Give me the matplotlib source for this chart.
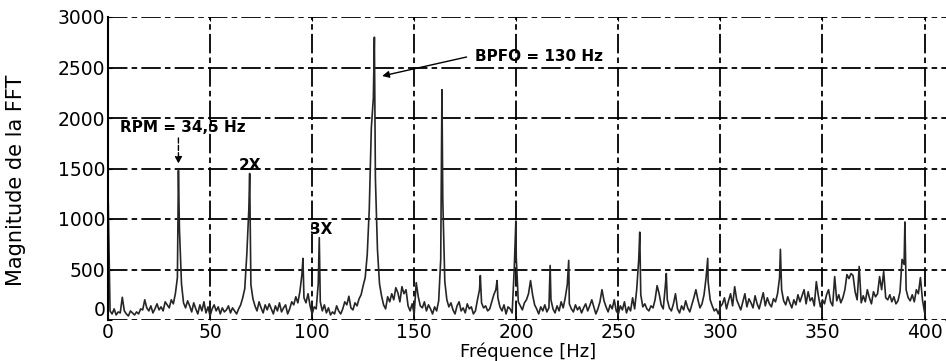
import numpy as np
import matplotlib
matplotlib.use('Agg')
import matplotlib.pyplot as plt

plt.rcParams['font.family'] = ['DejaVu Sans']
plt.rcParams['lines.scale_dashes'] = False

# noise floor of the spectrum, one value per Hz (0..400 Hz)
mag_base = [
    1300, 90, 60, 110, 50, 80, 70, 225, 90, 60,
    40, 90, 70, 50, 80, 60, 110, 100, 200, 120,
    90, 140, 70, 110, 160, 100, 130, 90, 180, 150,
    120, 200, 160, 260, 420, 900, 360, 170, 120, 190,
    140, 80, 170, 110, 60, 150, 90, 180, 70, 130,
    40, 110, 150, 90, 130, 60, 120, 80, 100, 140,
    70, 120, 90, 60, 110, 150, 220, 310, 650, 1100,
    350, 210, 140, 90, 180, 120, 70, 150, 100, 160,
    110, 60, 140, 90, 170, 80, 120, 150, 60, 110,
    180, 150, 230, 170, 280, 450, 220, 170, 260, 140,
    60, 130, 110, 360, 180, 90, 150, 70, 120, 50,
    80, 60, 140, 90, 60, 110, 180, 150, 235, 120,
    100, 170, 140, 210, 250, 340, 420, 650, 1100, 1900,
    2200, 1400, 700, 360, 240, 150, 110, 230, 180, 260,
    200, 320, 270, 180, 330, 260, 300, 140, 90, 160,
    60, 370, 230, 140, 120, 180, 90, 150, 110, 60,
    130, 90, 190, 600, 1200, 380, 200, 130, 170, 100,
    60, 140, 180, 90, 120, 70, 160, 110, 130, 60,
    90, 200, 300, 170, 120, 140, 90, 110, 180, 250,
    300, 220, 130, 90, 150, 60, 130, 110, 70, 500,
    620, 180, 140, 100, 170, 200, 260, 390, 250, 150,
    110, 60, 130, 90, 150, 80, 120, 200, 110, 70,
    140, 90, 180, 120, 220, 350, 160, 110, 80, 150,
    100, 130, 70, 120, 160, 90, 140, 200, 130, 60,
    110, 180, 300, 190, 130, 80, 150, 110, 200, 90,
    60, 140, 100, 180, 70, 130, 90, 220, 110, 300,
    600, 250, 130, 160, 110, 90, 140, 120, 200, 340,
    260, 150, 110, 330, 200, 120, 90, 160, 260, 110,
    70, 140, 100, 190, 120, 80, 150, 220, 300, 200,
    120, 160, 250, 420, 380, 200, 140, 90, 110, 60,
    130, 160, 220, 110, 190, 260, 140, 330, 200, 150,
    100, 180, 260, 130, 210, 170, 120, 240, 160, 110,
    190, 270, 140, 220, 160, 130, 210, 180, 260, 420,
    300, 190, 150, 230, 170, 120, 200, 150, 250, 180,
    240, 300, 160, 280, 190, 220, 140, 380, 240, 130,
    200, 160, 250, 300, 180, 140, 430, 190, 250, 170,
    220, 300, 450, 410, 460, 440, 280, 200, 530, 170,
    240, 180, 300, 220, 160, 280, 230, 260, 430, 300,
    480, 220, 200, 250, 180, 230, 160, 190, 280, 600,
    550, 300, 220, 190, 250, 180, 300, 260, 420, 200,
    80,
]
freq_base = np.arange(len(mag_base))

# narrow peaks of the spectrum
peak_freq = [34.5, 69.4, 95.5, 103.5, 130.5, 163.6, 182.4, 190.6, 199.8,
             216.6, 225.7, 260.5, 273.5, 293.8, 329.4, 390.4]
peak_mag = [1480, 1450, 610, 815, 2800, 2280, 440, 390, 980,
            540, 590, 870, 460, 610, 700, 970]

freq = np.concatenate([freq_base, peak_freq])
mag = np.concatenate([mag_base, peak_mag])
order = np.argsort(freq)
freq = freq[order]
mag = mag[order]

fig = plt.figure(figsize=(9.46, 3.61), dpi=100)
ax = fig.add_axes([108/946, 41/361, 841/946, 303/361])

ax.plot(freq, mag, color='#262626', linewidth=1.2)

ax.set_xlim(0, 412)
ax.set_ylim(0, 3000)
ax.set_xticks(np.arange(0, 401, 50))
ax.set_yticks(np.arange(0, 3001, 500))
ax.grid(True, color='black', linewidth=1.3, linestyle=(0, (14, 3, 4, 3)))
ax.tick_params(direction='in', length=3, labelsize=13.5, pad=2, top=True, right=True)
ax.tick_params(axis='x', pad=2)
for s in ['top', 'bottom', 'right']:
    ax.spines[s].set_visible(False)
ax.spines['left'].set_linewidth(1.5)
ax.get_yticklabels()[0].set_verticalalignment('bottom')

ax.set_xlabel('Fréquence [Hz]', fontsize=13, labelpad=0.5)
ax.set_ylabel('Magnitude de la FFT', fontsize=15)
ax.yaxis.set_label_coords(-0.098, 0.46)

ax.text(6, 1910, 'RPM = 34,5 Hz', fontsize=11, fontweight='bold', va='center')
ax.annotate('', xy=(34.5, 1520), xytext=(34.5, 1830),
            arrowprops=dict(arrowstyle='-|>', color='black', lw=1.0, linestyle='--',
                            mutation_scale=10))
ax.text(64, 1530, '2X', fontsize=11, fontweight='bold', va='center')
ax.text(99, 900, '3X', fontsize=11, fontweight='bold', va='center')
ax.text(180, 2610, 'BPFO = 130 Hz', fontsize=11, fontweight='bold', va='center')
ax.annotate('', xy=(133, 2410), xytext=(177, 2610),
            arrowprops=dict(arrowstyle='-|>', color='black', lw=1.0, mutation_scale=10))

fig.savefig('out.png', dpi=100)
